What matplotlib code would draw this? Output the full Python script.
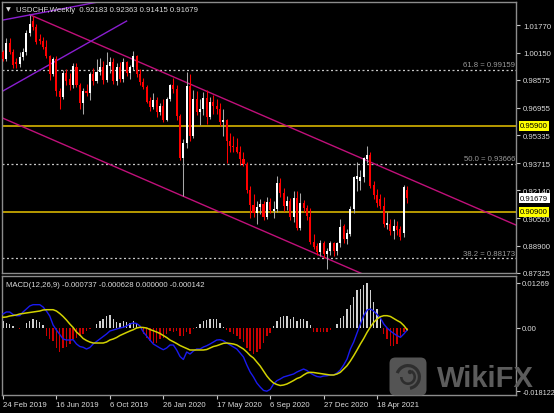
import matplotlib
matplotlib.use("Agg")
import matplotlib.pyplot as plt
import matplotlib.transforms as mtransforms
from matplotlib.patches import FancyBboxPatch, Circle, Wedge
import numpy as np

plt.rcParams['font.family'] = ['Liberation Sans', 'DejaVu Sans']

# ---------------- data (weekly USDCHF) ----------------
opens = [1.0018, 0.9978, 1.0075, 1.0022, 0.9960, 0.9948, 0.9990, 1.0020, 1.0130, 1.0200,
         1.0165, 1.0098, 1.0085, 1.0048, 0.9995, 0.9890, 0.9978, 0.9790, 0.9760, 0.9895,
         0.9860, 0.9825, 0.9935, 0.9825, 0.9720, 0.9790, 0.9780, 0.9890, 0.9850, 0.9905,
         0.9935, 0.9855, 0.9940, 0.9960, 0.9850, 0.9935, 0.9860, 0.9960, 0.9895, 0.9930,
         0.9995, 0.9890, 0.9845, 0.9815, 0.9735, 0.9700, 0.9740, 0.9670, 0.9705, 0.9625,
         0.9745, 0.9830, 0.9805, 0.9645, 0.9405, 0.9490, 0.9820, 0.9530, 0.9745, 0.9670,
         0.9690, 0.9750, 0.9640, 0.9730, 0.9705, 0.9690, 0.9610, 0.9625, 0.9500, 0.9470,
         0.9465, 0.9440, 0.9395, 0.9370, 0.9215, 0.9130, 0.9080, 0.9115, 0.9135, 0.9060,
         0.9145, 0.9095, 0.9105, 0.9255, 0.9200, 0.9120, 0.9150, 0.9060, 0.9170, 0.8995,
         0.9140, 0.9110, 0.9060, 0.8915, 0.8890, 0.8855, 0.8905, 0.8845, 0.8860, 0.8905,
         0.8860, 0.8905, 0.9005, 0.8930, 0.8960, 0.9105, 0.9280, 0.9270, 0.9290, 0.9395,
         0.9420, 0.9245, 0.9185, 0.9165, 0.9125, 0.9010, 0.9015, 0.8975, 0.9005, 0.8990,
         0.8965, 0.92183]
highs = [1.0032, 1.0100, 1.0100, 1.0035, 0.9985, 1.0020, 1.0045, 1.0145, 1.0237, 1.0228,
         1.0185, 1.0125, 1.0110, 1.0090, 1.0005, 0.9990, 0.9995, 0.9810, 0.9915, 0.9920,
         0.9900, 0.9955, 0.9955, 0.9840, 0.9810, 0.9835, 0.9905, 0.9925, 0.9980, 0.9985,
         0.9965, 1.0020, 0.9990, 0.9985, 0.9955, 0.9960, 0.9985, 0.9970, 0.9945, 1.0023,
         1.0005, 0.9920, 0.9870, 0.9830, 0.9760, 0.9780, 0.9755, 0.9720, 0.9745, 0.9760,
         0.9835, 0.9870, 0.9830, 0.9660, 0.9515, 0.9902, 0.9890, 0.9800, 0.9790, 0.9745,
         0.9785, 0.9800, 0.9760, 0.9770, 0.9745, 0.9720, 0.9690, 0.9630, 0.9550, 0.9530,
         0.9520, 0.9470, 0.9440, 0.9380, 0.9240, 0.9195, 0.9150, 0.9165, 0.9150, 0.9175,
         0.9170, 0.9150, 0.9295, 0.9285, 0.9225, 0.9180, 0.9170, 0.9210, 0.9210, 0.9200,
         0.9160, 0.9130, 0.9110, 0.8960, 0.8910, 0.8925, 0.8920, 0.8880, 0.8920, 0.8915,
         0.8915, 0.9045, 0.9015, 0.8990, 0.9120, 0.9300, 0.9378, 0.9335, 0.9410, 0.9473,
         0.9435, 0.9270, 0.9220, 0.9190, 0.9175, 0.9085, 0.9045, 0.9045, 0.9035, 0.9005,
         0.9245, 0.92363]
lows = [0.9965, 0.9968, 1.0010, 0.9925, 0.9925, 0.9930, 0.9975, 1.0005, 1.0115, 1.0150,
        1.0065, 1.0065, 1.0035, 0.9985, 0.9855, 0.9880, 0.9765, 0.9690, 0.9745, 0.9830,
        0.9800, 0.9810, 0.9815, 0.9690, 0.9660, 0.9765, 0.9740, 0.9830, 0.9840, 0.9885,
        0.9835, 0.9845, 0.9900, 0.9835, 0.9830, 0.9845, 0.9845, 0.9880, 0.9865, 0.9915,
        0.9875, 0.9830, 0.9805, 0.9720, 0.9675, 0.9685, 0.9640, 0.9655, 0.9613, 0.9615,
        0.9735, 0.9780, 0.9625, 0.9390, 0.9180, 0.9460, 0.9500, 0.9520, 0.9650, 0.9595,
        0.9655, 0.9600, 0.9630, 0.9660, 0.9660, 0.9590, 0.9530, 0.9375, 0.9440, 0.9440,
        0.9430, 0.9360, 0.9355, 0.9200, 0.9055, 0.9060, 0.9020, 0.9075, 0.9040, 0.9045,
        0.9080, 0.9050, 0.9090, 0.9175, 0.9095, 0.9100, 0.9040, 0.9030, 0.8980, 0.8985,
        0.9085, 0.9040, 0.8900, 0.8870, 0.8835, 0.8830, 0.8820, 0.8757, 0.8840, 0.8830,
        0.8840, 0.8885, 0.8905, 0.8900, 0.8950, 0.9080, 0.9212, 0.9215, 0.9265, 0.9375,
        0.9225, 0.9165, 0.9115, 0.9105, 0.9000, 0.8990, 0.8955, 0.8930, 0.8955, 0.8925,
        0.8945, 0.91415]
closes = [0.9978, 1.0075, 1.0022, 0.9945, 0.9948, 0.9990, 1.0020, 1.0130, 1.0185, 1.0165,
          1.0080, 1.0085, 1.0048, 0.9995, 0.9890, 0.9978, 0.9790, 0.9760, 0.9895, 0.9850,
          0.9825, 0.9940, 0.9825, 0.9720, 0.9790, 0.9780, 0.9890, 0.9850, 0.9905, 0.9935,
          0.9855, 0.9945, 0.9960, 0.9850, 0.9935, 0.9860, 0.9960, 0.9895, 0.9930, 0.9995,
          0.9890, 0.9845, 0.9815, 0.9730, 0.9700, 0.9740, 0.9670, 0.9705, 0.9625, 0.9745,
          0.9830, 0.9805, 0.9645, 0.9405, 0.9490, 0.9820, 0.9530, 0.9745, 0.9670, 0.9690,
          0.9750, 0.9640, 0.9730, 0.9705, 0.9690, 0.9610, 0.9625, 0.9500, 0.9470, 0.9465,
          0.9440, 0.9395, 0.9370, 0.9215, 0.9130, 0.9080, 0.9115, 0.9135, 0.9060, 0.9145,
          0.9100, 0.9105, 0.9255, 0.9200, 0.9120, 0.9150, 0.9060, 0.9170, 0.8995, 0.9140,
          0.9110, 0.9065, 0.8915, 0.8885, 0.8855, 0.8905, 0.8845, 0.8862, 0.8905, 0.8860,
          0.8905, 0.9000, 0.8930, 0.8965, 0.9105, 0.9290, 0.9295, 0.9290, 0.9405, 0.9420,
          0.9240, 0.9185, 0.9140, 0.9125, 0.9015, 0.9025, 0.8975, 0.9005, 0.8985, 0.8945,
          0.9235, 0.91679]

macd_main = [0.00384, 0.00441, 0.00441, 0.00370, 0.00336, 0.00336, 0.00441, 0.00526, 0.00612, 0.00649,
             0.00649, 0.00649, 0.00583, 0.00469, 0.00327, 0.00071, -0.00071, -0.00199, -0.00327, -0.00356,
             -0.00356, -0.00347, -0.00469, -0.00541, -0.00563, -0.00612, -0.00569, -0.00469, -0.00398, -0.00327,
             -0.00256, -0.00185, -0.00100, -0.00071, -0.00043, -0.00014, 0.00006, 0.00043, 0.00100, 0.00128,
             0.00114, 0.00043, -0.00128, -0.00242, -0.00356, -0.00469, -0.00526, -0.00583, -0.00632, -0.00583,
             -0.00498, -0.00498, -0.00640, -0.00825, -0.00910, -0.00697, -0.00754, -0.00669, -0.00612, -0.00612,
             -0.00555, -0.00518, -0.00469, -0.00413, -0.00356, -0.00347, -0.00376, -0.00441, -0.00498, -0.00555,
             -0.00612, -0.00725, -0.00839, -0.01067, -0.01266, -0.01408, -0.01579, -0.01693, -0.01790, -0.01812,
             -0.01760, -0.01607, -0.01514, -0.01465, -0.01408, -0.01380, -0.01351, -0.01323, -0.01266, -0.01223,
             -0.01181, -0.01223, -0.01295, -0.01351, -0.01394, -0.01408, -0.01380, -0.01371, -0.01351, -0.01351,
             -0.01295, -0.01209, -0.01067, -0.00896, -0.00612, -0.00413, -0.00156, 0.00100, 0.00336, 0.00498,
             0.00526, 0.00469, 0.00370, 0.00270, 0.00100, -0.00014, -0.00100, -0.00171, -0.00233, -0.00279,
             -0.00185, -0.000737]
macd_signal = [0.00290, 0.00299, 0.00327, 0.00341, 0.00356, 0.00384, 0.00398, 0.00413, 0.00427, 0.00441,
               0.00455, 0.00469, 0.00498, 0.00506, 0.00506, 0.00506, 0.00469, 0.00398, 0.00313, 0.00213,
               0.00100, 0.00000, -0.00128, -0.00213, -0.00313, -0.00370, -0.00413, -0.00441, -0.00441, -0.00441,
               -0.00441, -0.00413, -0.00356, -0.00327, -0.00285, -0.00228, -0.00185, -0.00142, -0.00100, -0.00063,
               -0.00014, 0.00006, 0.00000, -0.00014, -0.00057, -0.00091, -0.00128, -0.00171, -0.00228, -0.00285,
               -0.00356, -0.00404, -0.00455, -0.00512, -0.00555, -0.00597, -0.00640, -0.00640, -0.00640, -0.00640,
               -0.00640, -0.00626, -0.00583, -0.00541, -0.00518, -0.00484, -0.00450, -0.00441, -0.00455, -0.00469,
               -0.00498, -0.00555, -0.00612, -0.00697, -0.00797, -0.00868, -0.00982, -0.01095, -0.01238, -0.01380,
               -0.01494, -0.01579, -0.01622, -0.01650, -0.01636, -0.01607, -0.01559, -0.01508, -0.01451, -0.01417,
               -0.01351, -0.01295, -0.01275, -0.01280, -0.01295, -0.01309, -0.01323, -0.01337, -0.01351, -0.01351,
               -0.01323, -0.01275, -0.01181, -0.01087, -0.00953, -0.00802, -0.00640, -0.00469, -0.00313, -0.00137,
               0.00014, 0.00148, 0.00242, 0.00307, 0.00336, 0.00336, 0.00313, 0.00256, 0.00199, 0.00148,
               0.00057, -0.000628]
macd_hist = [0.00190, 0.00142, 0.00095, 0.00047, -0.00028, -0.00047, -0.00028, 0.00123, 0.00190, 0.00237,
             0.00218, 0.00161, 0.00066, -0.00237, -0.00332, -0.00379, -0.00569, -0.00711, -0.00569, -0.00541,
             -0.00474, -0.00332, -0.00285, -0.00237, -0.00190, -0.00095, -0.00047, -0.00019, 0.00095, 0.00190,
             0.00256, 0.00332, 0.00351, 0.00237, 0.00161, 0.00142, 0.00190, 0.00161, 0.00142, 0.00190,
             0.00095, -0.00010, -0.00190, -0.00285, -0.00379, -0.00427, -0.00427, -0.00332, -0.00285, -0.00190,
             -0.00095, -0.00142, -0.00095, -0.00237, -0.00237, -0.00142, -0.00190, -0.00047, 0.00028, 0.00095,
             0.00190, 0.00218, 0.00237, 0.00256, 0.00256, 0.00142, 0.00028, -0.00066, -0.00123, -0.00190,
             -0.00237, -0.00332, -0.00408, -0.00569, -0.00664, -0.00759, -0.00711, -0.00616, -0.00427, -0.00237,
             -0.00150, 0.00050, 0.00199, 0.00294, 0.00313, 0.00313, 0.00247, 0.00294, 0.00199, 0.00247,
             0.00228, 0.00199, 0.00057, -0.00133, -0.00133, -0.00133, -0.00114, -0.00114, -0.00057, -0.00019,
             0.00104, 0.00266, 0.00341, 0.00531, 0.00626, 0.00863, 0.01053, 0.01100, 0.01214, 0.01269,
             0.01053, 0.00721, 0.00531, 0.00247, -0.00180, -0.00322, -0.00512, -0.00512, -0.00465, -0.00275,
             -0.00133, -0.00085]

date_idx = [0, 16, 32, 48, 64, 80, 96, 112]
date_labels = ["24 Feb 2019", "16 Jun 2019", "6 Oct 2019", "26 Jan 2020",
               "17 May 2020", "6 Sep 2020", "27 Dec 2020", "18 Apr 2021"]
price_ticks = [1.01770, 1.00150, 0.98575, 0.96955, 0.95335, 0.93715,
               0.92140, 0.90520, 0.88900, 0.87325]
macd_ticks = [0.01269, 0.0, -0.018122]
macd_tick_labels = ["0.01269", "0.00", "-0.018122"]

fib_levels = [0.99159, 0.93666, 0.88173]
fib_names = ["61.8", "50.0", "38.2"]
support_levels = [0.95900, 0.90900]

upper_channel = ([8, 121], [1.0237, 0.9286])
lower_channel = ([0, 106], [0.9634, 0.8741])
violet_a = ([0, 29], [1.0206, 1.0313])
violet_b = ([0, 37], [0.9793, 1.0200])

title = "USDCHF,Weekly  0.92183 0.92363 0.91415 0.91679"
macd_title = "MACD(12,26,9) -0.000737 -0.000628 0.000000 -0.000142"

# ---------------- layout ----------------
W, H = 554, 414
fig = plt.figure(figsize=(W / 100, H / 100), dpi=100, facecolor='black')


def px_rect(x0, y0, x1, y1):
    return [x0 / W, 1 - y1 / H, (x1 - x0) / W, (y1 - y0) / H]


ax = fig.add_axes(px_rect(2, 3, 516, 274))
ax2 = fig.add_axes(px_rect(2, 277, 516, 396))

bar_px = 3.34
xmin = -1 / bar_px
xmax = xmin + 514 / bar_px
TXT = '#DCDCDC'
FS = 5.6

for a in (ax, ax2):
    a.set_facecolor('black')
    a.set_xlim(xmin, xmax)
    for s in a.spines.values():
        s.set_color('#8C8C8C')
        s.set_linewidth(1.0)

# ---------------- candles ----------------
idx = np.arange(len(closes))
o = np.array(opens)
h = np.array(highs)
l = np.array(lows)
c = np.array(closes)
up = c >= o
wick_col = np.where(up, '#A8A8A8', '#FF0000')
body_col = np.where(up, '#FFFFFF', '#FF0000')
ax.vlines(idx, l, h, colors=wick_col, linewidth=0.75, zorder=3)
body_bot = np.minimum(o, c)
body_h = np.maximum(np.abs(c - o), 0.0005)
ax.bar(idx, body_h, bottom=body_bot, width=0.62, color=body_col, linewidth=0, zorder=4)

ax.set_ylim(0.87324, 1.03110)

# horizontal levels
for lv in support_levels:
    ax.axhline(lv, color='#B89A00', linewidth=1.4, zorder=2)
for lv, nm in zip(fib_levels, fib_names):
    ax.axhline(lv, color='#C8C8C8', linewidth=0.9, dashes=(1.6, 2.0), zorder=2)
    t = ax.text(0.998, lv, f"{nm} = {lv:.5f}", transform=mtransforms.blended_transform_factory(ax.transAxes, ax.transData),
                ha='right', va='bottom', color='#9A9A9A', fontsize=FS, zorder=5)
    t.set_transform(t.get_transform() + mtransforms.ScaledTranslation(0, 1.2 / 72, fig.dpi_scale_trans))


def ray(anchor, x_from, x_to):
    xs, ys = anchor
    slope = (ys[1] - ys[0]) / (xs[1] - xs[0])
    xx = np.array([x_from, x_to])
    return xx, ys[0] + slope * (xx - xs[0])


xx, yy = ray(upper_channel, upper_channel[0][0], xmax)
ax.plot(xx, yy, color='#C0107A', linewidth=1.0, zorder=2)
xx, yy = ray(lower_channel, xmin, xmax)
ax.plot(xx, yy, color='#C0107A', linewidth=1.0, zorder=2)
xx, yy = ray(violet_a, xmin, violet_a[0][1])
ax.plot(xx, yy, color='#8A1ED0', linewidth=1.0, zorder=2)
xx, yy = ray(violet_b, xmin, violet_b[0][1])
ax.plot(xx, yy, color='#8A1ED0', linewidth=1.0, zorder=2)

# right price axis
ax.yaxis.tick_right()
ax.set_yticks(price_ticks)
ax.set_yticklabels([f"{v:.5f}" for v in price_ticks])
ax.tick_params(axis='y', colors='#C8C8C8', labelcolor=TXT, labelsize=FS, length=3, width=0.8, pad=2)
ax.tick_params(axis='x', bottom=False, labelbottom=False)

btf = mtransforms.blended_transform_factory(ax.transAxes, ax.transData)
for lv, fc in [(support_levels[0], '#FFFF00'), (support_levels[1], '#FFFF00'), (closes[-1], '#FFFFFF')]:
    ax.text(1.0 + 4 / 514, lv, f"{lv:.5f}", transform=btf, ha='left', va='center', color='black',
            fontsize=FS, clip_on=False, zorder=10,
            bbox=dict(boxstyle='square,pad=0.18', fc=fc, ec='none'))

# ---------------- MACD ----------------
hist = np.array(macd_hist)
hcol = np.where(hist >= 0, '#D0D0D0', '#CC0000')
ax2.bar(idx, hist, width=0.42, color=hcol, linewidth=0, zorder=2)
ax2.plot(idx, macd_main, color='#1A1AF0', linewidth=1.0, zorder=3)
ax2.plot(idx, macd_signal, color='#D2D200', linewidth=1.1, zorder=4)
ax2.set_ylim(-0.01920, 0.01465)
ax2.yaxis.tick_right()
ax2.set_yticks(macd_ticks)
ax2.set_yticklabels(macd_tick_labels)
ax2.tick_params(axis='y', colors='#C8C8C8', labelcolor=TXT, labelsize=FS, length=3, width=0.8, pad=1.5)
ax2.get_yticklabels()[-1].set_fontsize(5.2)
ax2.set_xticks(date_idx)
ax2.set_xticklabels(date_labels, ha='left')
ax2.tick_params(axis='x', colors='#C8C8C8', labelcolor=TXT, labelsize=FS, length=3, width=0.8, pad=1.5)

# ---------------- header texts ----------------
fig.text(6 / W, 1 - 10 / H, '\u25bc', family='DejaVu Sans', fontsize=4.5, color=TXT, va='center', ha='left')
fig.text(16 / W, 1 - 10 / H, title, fontsize=FS, color=TXT, va='center', ha='left')
fig.text(6 / W, 1 - 286 / H, macd_title, fontsize=FS, color=TXT, va='center', ha='left')

# ---------------- watermark ----------------
ov = fig.add_axes([0, 0, 1, 1])
ov.set_xlim(0, W)
ov.set_ylim(H, 0)
ov.axis('off')
ov.patch.set_alpha(0)
ov.add_patch(FancyBboxPatch((391, 360), 34, 35, boxstyle='round,pad=1.5,rounding_size=6',
                            fc='#5E5E5E', ec='none', alpha=0.9))
ov.add_patch(Wedge((408, 378), 13, 200, 80, width=3.2, fc='#2E2E2E', ec='none'))
ov.add_patch(Wedge((408, 378), 8, 300, 180, width=2.6, fc='#2E2E2E', ec='none'))
ov.add_patch(Circle((410, 373), 2.2, fc='#2E2E2E', ec='none'))
ov.text(437, 387.5, 'WikiFX', fontsize=21, fontweight='bold', color='#5C5C5C', ha='left', va='baseline',
        family=['Liberation Sans', 'DejaVu Sans'])

fig.savefig('out.png', dpi=100, facecolor='black')
